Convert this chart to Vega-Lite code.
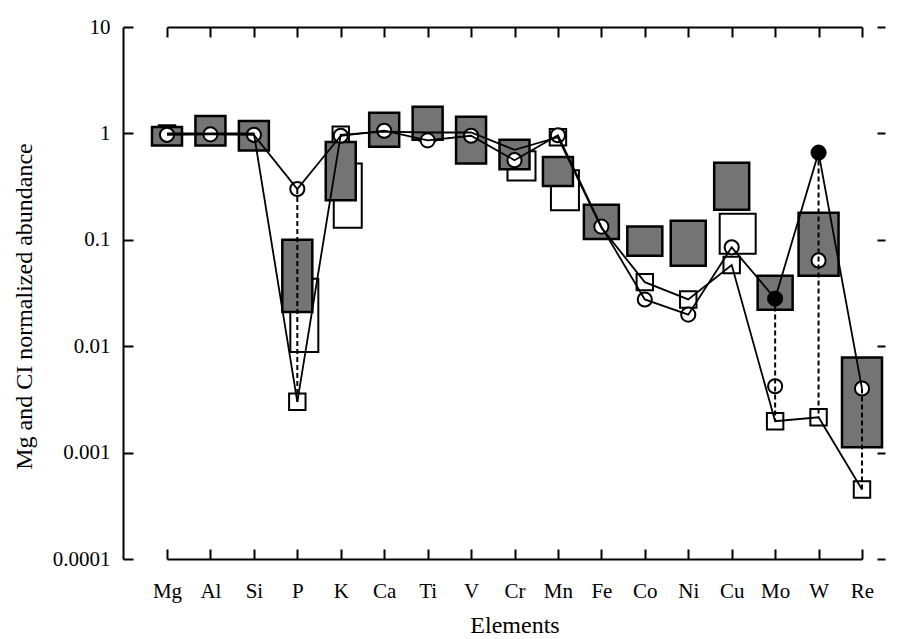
{
  "$schema": "https://vega.github.io/schema/vega-lite/v6.json",
  "width": 762,
  "height": 532,
  "autosize": {"type": "none"},
  "padding": {"left": 123, "top": 27, "right": 13, "bottom": 80},
  "background": "white",
  "config": {
    "view": {"stroke": null},
    "font": "Liberation Serif",
    "axis": {
      "labelFont": "Liberation Serif",
      "titleFont": "Liberation Serif",
      "labelColor": "black",
      "titleColor": "black",
      "domainColor": "black",
      "tickColor": "black",
      "grid": false,
      "labelFontSize": 21,
      "titleFontSize": 24,
      "titleFontWeight": "normal",
      "domainWidth": 2,
      "tickWidth": 2
    }
  },
  "datasets": {
    "shaded": [
      {"el": "Mg", "lo": 0.77, "hi": 1.15},
      {"el": "Al", "lo": 0.77, "hi": 1.46},
      {"el": "Si", "lo": 0.69, "hi": 1.31},
      {"el": "P", "lo": 0.021, "hi": 0.1},
      {"el": "K", "lo": 0.235, "hi": 0.83},
      {"el": "Ca", "lo": 0.75, "hi": 1.56},
      {"el": "Ti", "lo": 0.87, "hi": 1.78},
      {"el": "V", "lo": 0.52, "hi": 1.43},
      {"el": "Cr", "lo": 0.46, "hi": 0.87},
      {"el": "Mn", "lo": 0.32, "hi": 0.6},
      {"el": "Fe", "lo": 0.102, "hi": 0.214},
      {"el": "Co", "lo": 0.071, "hi": 0.133},
      {"el": "Ni", "lo": 0.057, "hi": 0.151},
      {"el": "Cu", "lo": 0.192, "hi": 0.53},
      {"el": "Mo", "lo": 0.022, "hi": 0.046},
      {"el": "W", "lo": 0.046, "hi": 0.18},
      {"el": "Re", "lo": 0.00112, "hi": 0.00785}
    ],
    "white": [
      {"el": "P", "lo": 0.0088, "hi": 0.043},
      {"el": "K", "lo": 0.13, "hi": 0.52},
      {"el": "Cr", "lo": 0.36, "hi": 0.68},
      {"el": "Mn", "lo": 0.19, "hi": 0.45},
      {"el": "Cu", "lo": 0.074, "hi": 0.176}
    ],
    "circ": [
      {"el": "Mg", "i": 0, "v": 0.97, "filled": false},
      {"el": "Al", "i": 1, "v": 0.98, "filled": false},
      {"el": "Si", "i": 2, "v": 0.97, "filled": false},
      {"el": "P", "i": 3, "v": 0.3, "filled": false},
      {"el": "K", "i": 4, "v": 0.95, "filled": false},
      {"el": "Ca", "i": 5, "v": 1.06, "filled": false},
      {"el": "Ti", "i": 6, "v": 0.86, "filled": false},
      {"el": "V", "i": 7, "v": 0.95, "filled": false},
      {"el": "Cr", "i": 8, "v": 0.56, "filled": false},
      {"el": "Mn", "i": 9, "v": 0.96, "filled": false},
      {"el": "Fe", "i": 10, "v": 0.133, "filled": false},
      {"el": "Co", "i": 11, "v": 0.0275, "filled": false},
      {"el": "Ni", "i": 12, "v": 0.0198, "filled": false},
      {"el": "Cu", "i": 13, "v": 0.085, "filled": false},
      {"el": "Mo", "i": 14, "v": 0.028, "filled": true},
      {"el": "W", "i": 15, "v": 0.66, "filled": true},
      {"el": "Re", "i": 16, "v": 0.004, "filled": false}
    ],
    "circx": [
      {"el": "Mo", "v": 0.0042},
      {"el": "W", "v": 0.064}
    ],
    "sq": [
      {"el": "Mg", "i": 0, "v": 1.0},
      {"el": "Al", "i": 1, "v": 1.0},
      {"el": "Si", "i": 2, "v": 1.0},
      {"el": "P", "i": 3, "v": 0.003},
      {"el": "K", "i": 4, "v": 0.97},
      {"el": "Ca", "i": 5, "v": 1.04},
      {"el": "Ti", "i": 6, "v": 1.02},
      {"el": "V", "i": 7, "v": 1.02},
      {"el": "Cr", "i": 8, "v": 0.7},
      {"el": "Mn", "i": 9, "v": 0.92},
      {"el": "Fe", "i": 10, "v": 0.13},
      {"el": "Co", "i": 11, "v": 0.04},
      {"el": "Ni", "i": 12, "v": 0.0275},
      {"el": "Cu", "i": 13, "v": 0.058},
      {"el": "Mo", "i": 14, "v": 0.00197},
      {"el": "W", "i": 15, "v": 0.00215},
      {"el": "Re", "i": 16, "v": 0.00045}
    ],
    "dashed": [
      {"el": "P", "top": 0.3, "bot": 0.003},
      {"el": "Mo", "top": 0.028, "bot": 0.00197},
      {"el": "W", "top": 0.66, "bot": 0.00215},
      {"el": "Re", "top": 0.004, "bot": 0.00045}
    ]
  },
  "resolve": {"axis": {"x": "independent", "y": "independent"}},
  "layer": [
    {
      "data": {"name": "white"},
      "transform": [{"filter": {"field": "el", "oneOf": ["P", "K", "Cr", "Mn"]}}],
      "mark": {"type": "bar", "size": 28, "xOffset": 7, "fill": "white", "stroke": "black", "strokeWidth": 2},
      "encoding": {
        "x": {"field": "el", "type": "ordinal",
          "scale": {"type": "point", "padding": 0, "domain": ["Mg","Al","Si","P","K","Ca","Ti","V","Cr","Mn","Fe","Co","Ni","Cu","Mo","W","Re"], "range": [44, 739]},
          "axis": {"orient": "bottom", "title": "Elements", "labelAngle": 0, "tickSize": -10, "labelPadding": 31, "titlePadding": 12}},
        "y": {"field": "lo", "type": "quantitative",
          "scale": {"type": "log", "domain": [0.0001, 10], "nice": false},
          "axis": {"orient": "left", "title": "Mg and CI normalized abundance", "values": [0.0001, 0.001, 0.01, 0.1, 1, 10], "labelExpr": "toString(datum.value)", "tickSize": -10, "labelPadding": 23, "titlePadding": 16, "titleY": 279}},
        "y2": {"field": "hi"}
      }
    },
    {
      "data": {"name": "white"},
      "transform": [{"filter": {"field": "el", "oneOf": ["Cu"]}}],
      "mark": {"type": "bar", "size": 36, "xOffset": 6, "fill": "white", "stroke": "black", "strokeWidth": 2},
      "encoding": {
        "x": {"field": "el", "type": "ordinal", "axis": null},
        "y": {"field": "lo", "type": "quantitative", "axis": null},
        "y2": {"field": "hi"}
      }
    },
    {
      "data": {"name": "sq"},
      "mark": {"type": "point", "shape": "square", "size": 270, "filled": true, "fill": "white", "stroke": "black", "strokeWidth": 2, "opacity": 1},
      "encoding": {
        "x": {"field": "el", "type": "ordinal", "axis": null},
        "y": {"field": "v", "type": "quantitative", "axis": null}
      }
    },
    {
      "data": {"name": "shaded"},
      "transform": [{"filter": {"field": "el", "oneOf": ["Mg","Al","Si","P","K","Ca","Ti","V","Cr","Mn"]}}],
      "mark": {"type": "bar", "size": 30, "fill": "#747474", "stroke": "black", "strokeWidth": 2.5},
      "encoding": {
        "x": {"field": "el", "type": "ordinal",
          "axis": {"orient": "top", "title": null, "labels": false, "tickSize": -10}},
        "y": {"field": "lo", "type": "quantitative",
          "axis": {"orient": "right", "title": null, "labels": false, "domain": false, "values": [0.0001, 0.001, 0.01, 0.1, 1, 10], "tickSize": -8}},
        "y2": {"field": "hi"}
      }
    },
    {
      "data": {"name": "shaded"},
      "transform": [{"filter": {"field": "el", "oneOf": ["Fe","Co","Ni","Cu","Mo"]}}],
      "mark": {"type": "bar", "size": 35, "fill": "#747474", "stroke": "black", "strokeWidth": 2.5},
      "encoding": {
        "x": {"field": "el", "type": "ordinal", "axis": null},
        "y": {"field": "lo", "type": "quantitative", "axis": null},
        "y2": {"field": "hi"}
      }
    },
    {
      "data": {"name": "shaded"},
      "transform": [{"filter": {"field": "el", "oneOf": ["W","Re"]}}],
      "mark": {"type": "bar", "size": 40, "fill": "#747474", "stroke": "black", "strokeWidth": 2.5},
      "encoding": {
        "x": {"field": "el", "type": "ordinal", "axis": null},
        "y": {"field": "lo", "type": "quantitative", "axis": null},
        "y2": {"field": "hi"}
      }
    },
    {
      "data": {"name": "circ"},
      "transform": [{"filter": "!datum.filled"}],
      "mark": {"type": "point", "shape": "circle", "size": 200, "filled": true, "fill": "white", "stroke": "black", "strokeWidth": 2, "opacity": 1},
      "encoding": {
        "x": {"field": "el", "type": "ordinal", "axis": null},
        "y": {"field": "v", "type": "quantitative", "axis": null}
      }
    },
    {
      "data": {"name": "circx"},
      "mark": {"type": "point", "shape": "circle", "size": 200, "filled": true, "fill": "white", "stroke": "black", "strokeWidth": 2, "opacity": 1},
      "encoding": {
        "x": {"field": "el", "type": "ordinal", "axis": null},
        "y": {"field": "v", "type": "quantitative", "axis": null}
      }
    },
    {
      "data": {"name": "circ"},
      "transform": [{"filter": "datum.filled"}],
      "mark": {"type": "point", "shape": "circle", "size": 230, "filled": true, "fill": "black", "stroke": "black", "strokeWidth": 1, "opacity": 1},
      "encoding": {
        "x": {"field": "el", "type": "ordinal", "axis": null},
        "y": {"field": "v", "type": "quantitative", "axis": null}
      }
    },
    {
      "mark": {"type": "rule", "color": "black", "strokeWidth": 2},
      "encoding": {"y": {"datum": 1, "type": "quantitative", "axis": null}}
    },
    {
      "data": {"name": "dashed"},
      "mark": {"type": "rule", "color": "black", "strokeWidth": 2, "strokeDash": [5, 3]},
      "encoding": {
        "x": {"field": "el", "type": "ordinal", "axis": null},
        "y": {"field": "top", "type": "quantitative", "axis": null},
        "y2": {"field": "bot"}
      }
    },
    {
      "data": {"name": "circ"},
      "mark": {"type": "line", "color": "black", "strokeWidth": 1.8},
      "encoding": {
        "x": {"field": "el", "type": "ordinal", "axis": null},
        "y": {"field": "v", "type": "quantitative", "axis": null},
        "order": {"field": "i", "type": "quantitative"}
      }
    },
    {
      "data": {"name": "sq"},
      "mark": {"type": "line", "color": "black", "strokeWidth": 1.8},
      "encoding": {
        "x": {"field": "el", "type": "ordinal", "axis": null},
        "y": {"field": "v", "type": "quantitative", "axis": null},
        "order": {"field": "i", "type": "quantitative"}
      }
    }
  ]
}
